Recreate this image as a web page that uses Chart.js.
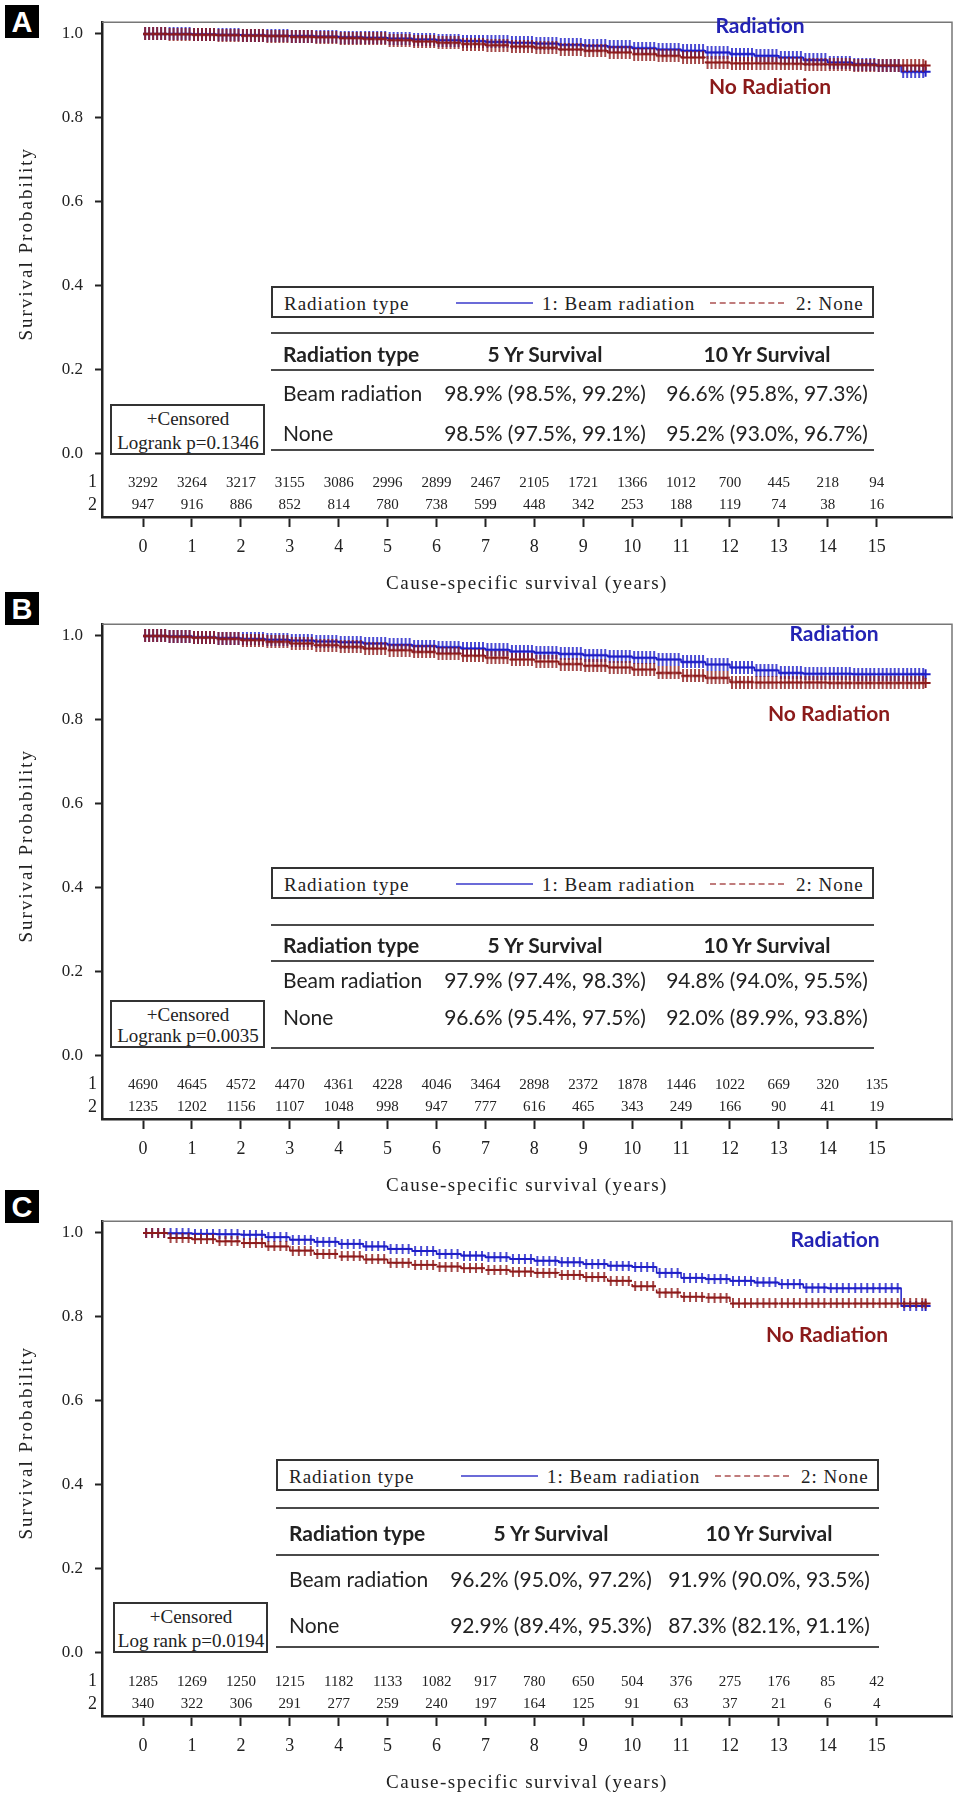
<!DOCTYPE html>
<html>
<head>
<meta charset="utf-8">
<title>Cause-specific survival by radiation type</title>
<script src="https://cdn.jsdelivr.net/npm/chart.js@4.4.1/dist/chart.umd.min.js"></script>
<style>
  body { margin: 0; background: #fff; }
  #page { position: relative; width: 962px; height: 1800px; overflow: hidden; }
  .panel { position: absolute; left: 0; width: 962px; height: 597px; }
  .panel canvas { position: absolute; left: 0; top: 0; }
  .tag { position: absolute; left: 5px; width: 34px; height: 33px; background: #000; color: #fff;
         font: bold 29px "Liberation Sans", Arial, sans-serif; text-align: center; line-height: 34px; }
  .t { position: absolute; white-space: nowrap; line-height: 1; color: #222; }
  .serif { font-family: "Liberation Serif", serif; font-size: 19px; }
  .leg { font-family: "Liberation Serif", serif; font-size: 19px; letter-spacing: 1px; }
  .sans { font-family: Lato, "Liberation Sans", sans-serif; font-size: 21px; }
  .bold { font-weight: bold; }
  .rule { position: absolute; height: 0; border-top: 2.5px solid #4a4a4a; }
  .box { position: absolute; border: 2px solid #333; background: #fff; box-sizing: border-box; }
  .lab { position: absolute; white-space: nowrap; line-height: 1; font: bold 21px Lato, sans-serif; transform: translate(-50%, -50%); }
</style>
</head>
<body>
<div id="page"></div>
<script>
// tick values
const years = [0, 1, 2, 3, 4, 5, 6, 7, 8, 9, 10, 11, 12, 13, 14, 15];
const yTicks = [0, 0.2, 0.4, 0.6, 0.8, 1.0];

// KM estimates, every half year
const times = [0, 0.5, 1, 1.5, 2, 2.5, 3, 3.5, 4, 4.5, 5, 5.5, 6, 6.5, 7, 7.5, 8, 8.5,
               9, 9.5, 10, 10.5, 11, 11.5, 12, 12.5, 13, 13.5, 14, 14.5, 15, 15.5, 16];

const beamA = [1.000, 1.000, 0.999, 0.998, 0.997, 0.996, 0.995, 0.994, 0.992, 0.991, 0.989, 0.987, 0.985, 0.983, 0.981, 0.979, 0.977,
               0.974, 0.972, 0.969, 0.966, 0.963, 0.960, 0.956, 0.952, 0.948, 0.944, 0.938, 0.932, 0.928, 0.924, 0.910, 0.910];
const noneA = [1.000, 0.999, 0.998, 0.997, 0.996, 0.995, 0.993, 0.992, 0.990, 0.988, 0.985, 0.982, 0.979, 0.976, 0.973, 0.970, 0.967,
               0.963, 0.960, 0.956, 0.952, 0.948, 0.944, 0.932, 0.930, 0.930, 0.929, 0.928, 0.927, 0.926, 0.925, 0.925, 0.925];

const beamB = [1.000, 0.999, 0.997, 0.995, 0.993, 0.991, 0.989, 0.987, 0.985, 0.982, 0.979, 0.976, 0.973, 0.970, 0.967, 0.963, 0.960,
               0.957, 0.954, 0.951, 0.948, 0.944, 0.938, 0.932, 0.925, 0.918, 0.912, 0.910, 0.910, 0.909, 0.909, 0.909, 0.909];
const noneB = [1.000, 0.998, 0.996, 0.993, 0.990, 0.986, 0.982, 0.978, 0.974, 0.970, 0.966, 0.962, 0.958, 0.953, 0.948, 0.944, 0.939,
               0.933, 0.929, 0.925, 0.920, 0.912, 0.905, 0.900, 0.890, 0.889, 0.889, 0.889, 0.888, 0.888, 0.888, 0.888, 0.888];

const beamC = [1.000, 0.999, 0.998, 0.997, 0.996, 0.990, 0.984, 0.979, 0.974, 0.968, 0.962, 0.957, 0.950, 0.946, 0.942, 0.938, 0.934,
               0.930, 0.926, 0.922, 0.919, 0.905, 0.893, 0.890, 0.886, 0.882, 0.878, 0.870, 0.868, 0.868, 0.868, 0.826, 0.826];
const noneC = [1.000, 0.988, 0.985, 0.980, 0.976, 0.968, 0.958, 0.950, 0.944, 0.937, 0.929, 0.924, 0.920, 0.916, 0.912, 0.908, 0.905,
               0.900, 0.895, 0.886, 0.873, 0.858, 0.848, 0.846, 0.832, 0.832, 0.832, 0.832, 0.832, 0.832, 0.832, 0.832, 0.832];

// numbers at risk
const riskBeamA = [3292, 3264, 3217, 3155, 3086, 2996, 2899, 2467, 2105, 1721, 1366, 1012, 700, 445, 218, 94];
const riskNoneA = [947, 916, 886, 852, 814, 780, 738, 599, 448, 342, 253, 188, 119, 74, 38, 16];
const riskBeamB = [4690, 4645, 4572, 4470, 4361, 4228, 4046, 3464, 2898, 2372, 1878, 1446, 1022, 669, 320, 135];
const riskNoneB = [1235, 1202, 1156, 1107, 1048, 998, 947, 777, 616, 465, 343, 249, 166, 90, 41, 19];
const riskBeamC = [1285, 1269, 1250, 1215, 1182, 1133, 1082, 917, 780, 650, 504, 376, 275, 176, 85, 42];
const riskNoneC = [340, 322, 306, 291, 277, 259, 240, 197, 164, 125, 91, 63, 37, 21, 6, 4];

// survival table text
const groupNames = ['Beam radiation', 'None'];
const fiveYrA = ['98.9% (98.5%, 99.2%)', '98.5% (97.5%, 99.1%)'];
const tenYrA = ['96.6% (95.8%, 97.3%)', '95.2% (93.0%, 96.7%)'];
const fiveYrB = ['97.9% (97.4%, 98.3%)', '96.6% (95.4%, 97.5%)'];
const tenYrB = ['94.8% (94.0%, 95.5%)', '92.0% (89.9%, 93.8%)'];
const fiveYrC = ['96.2% (95.0%, 97.2%)', '92.9% (89.4%, 95.3%)'];
const tenYrC = ['91.9% (90.0%, 93.5%)', '87.3% (82.1%, 91.1%)'];
const logrank = ['Logrank p=0.1346', 'Logrank p=0.0035', 'Log rank p=0.0194'];

const BLUE = '#1e1ec8';
const RED = '#8e1b1b';
const SERIF = '"Liberation Serif", serif';

// censor marks: a run of "+" that fills the half year after each point
function censorRun(color, w, h, gap) {
  const c = document.createElement('canvas');
  c.width = w * 2;
  c.height = h;
  const g = c.getContext('2d');
  g.strokeStyle = color;
  g.lineWidth = 2;
  g.beginPath();
  g.moveTo(w, h / 2);
  g.lineTo(w * 2, h / 2);
  g.stroke();
  g.lineWidth = 1.6;
  g.beginPath();
  for (let x = w + gap / 2; x < w * 2; x += gap) {
    g.moveTo(x, 0);
    g.lineTo(x, h);
  }
  g.stroke();
  return c;
}

// frame, numbers at risk, axis titles
const kmExtras = {
  id: 'kmExtras',
  afterDraw(chart, args, opts) {
    const { ctx, chartArea: ca } = chart;
    const x = chart.scales.x, y = chart.scales.y;
    ctx.save();
    ctx.strokeStyle = '#777';
    ctx.lineWidth = 1.5;
    ctx.beginPath();
    ctx.moveTo(ca.left, ca.top);
    ctx.lineTo(ca.right, ca.top);
    ctx.lineTo(ca.right, ca.bottom);
    ctx.stroke();

    ctx.fillStyle = '#222';
    ctx.textBaseline = 'middle';
    const rowVals = [-0.069, -0.123];
    opts.risk.forEach(function(row, r) {
      const py = y.getPixelForValue(rowVals[r]);
      ctx.font = '15px ' + SERIF;
      ctx.textAlign = 'center';
      row.forEach(function(n, i) {
        ctx.fillText(String(n), x.getPixelForValue(years[i]), py);
      });
      ctx.font = '18px ' + SERIF;
      ctx.textAlign = 'right';
      ctx.fillText(String(r + 1), ca.left - 5, py);
    });

    ctx.font = '19px ' + SERIF;
    ctx.textAlign = 'center';
    ctx.letterSpacing = '1.5px';
    ctx.fillText('Cause-specific survival (years)', (ca.left + ca.right) / 2, 584);

    ctx.letterSpacing = '2px';
    ctx.translate(27, y.getPixelForValue(0.5));
    ctx.rotate(-Math.PI / 2);
    ctx.fillText('Survival Probability', 0, 0);
    ctx.restore();
  }
};

function addText(parent, text, left, top, cls, centered) {
  const d = document.createElement('div');
  d.className = 't ' + cls;
  d.textContent = text;
  d.style.left = left + 'px';
  d.style.top = top + 'px';
  d.style.transform = centered ? 'translate(-50%, -50%)' : 'translate(0, -50%)';
  parent.appendChild(d);
  return d;
}

function addRule(parent, left, top, width) {
  const d = document.createElement('div');
  d.className = 'rule';
  d.style.left = left + 'px';
  d.style.top = top + 'px';
  d.style.width = width + 'px';
  parent.appendChild(d);
}

function makePanel(p) {
  const page = document.getElementById('page');
  const tag = document.createElement('div');
  tag.className = 'tag';
  tag.textContent = p.letter;
  tag.style.top = p.tagTop + 'px';
  page.appendChild(tag);

  const panel = document.createElement('div');
  panel.className = 'panel';
  panel.style.top = p.top + 'px';
  page.appendChild(panel);
  const canvas = document.createElement('canvas');
  canvas.width = 962;
  canvas.height = 597;
  panel.appendChild(canvas);

  const last = times.length - 1;
  const runRed = censorRun(RED, 24, p.markH, p.gap);
  const runBlue = censorRun(BLUE, 24, p.markH, p.gap);

  new Chart(canvas, {
    type: 'line',
    data: {
      datasets: [{
        label: '2: None',
        data: times.map((t, i) => ({ x: t, y: p.none[i] })),
        borderColor: RED, borderWidth: 1.5, borderDash: [6, 4], stepped: true,
        pointStyle: c => c.dataIndex === last ? 'cross' : runRed,
        pointRadius: 5, pointBorderWidth: 2,
        pointBorderColor: RED, pointBackgroundColor: RED, fill: false
      }, {
        label: '1: Beam radiation',
        data: times.map((t, i) => ({ x: t, y: p.beam[i] })),
        borderColor: BLUE, borderWidth: 1.5, stepped: true,
        pointStyle: c => c.dataIndex === last ? 'cross' : runBlue,
        pointRadius: 5, pointBorderWidth: 2,
        pointBorderColor: BLUE, pointBackgroundColor: BLUE, fill: false
      }]
    },
    options: {
      responsive: false,
      animation: false,
      layout: { padding: { top: 10, right: 10, left: 0, bottom: 0 } },
      plugins: {
        legend: { display: false },
        tooltip: { enabled: false },
        kmExtras: { risk: p.risk }
      },
      scales: {
        x: {
          type: 'linear', min: -0.84, max: 16.54,
          afterBuildTicks: s => { s.ticks = years.map(v => ({ value: v })); },
          afterFit: s => { s.height = 80; },
          grid: { drawOnChartArea: false, tickLength: 10, tickWidth: 2, tickColor: '#222' },
          border: { color: '#222', width: 2.5 },
          ticks: { font: { family: SERIF, size: 18 }, color: '#222', padding: 9, maxRotation: 0, autoSkip: false }
        },
        y: {
          min: -0.151, max: 1.028,
          afterBuildTicks: s => { s.ticks = yTicks.map(v => ({ value: v })); },
          afterFit: s => { s.width = 102; },
          grid: { drawOnChartArea: false, tickLength: 7, tickWidth: 2, tickColor: '#222' },
          border: { color: '#222', width: 2.5 },
          ticks: { font: { family: SERIF, size: 17 }, color: '#222', padding: 12,
                   callback: v => Number(v).toFixed(1) }
        }
      }
    },
    plugins: [kmExtras]
  });

  // inset legend
  const L = p.lay;
  const leg = document.createElement('div');
  leg.className = 'box';
  leg.style.left = L.left + 'px';
  leg.style.top = L.legendTop + 'px';
  leg.style.width = L.width + 'px';
  leg.style.height = '32px';
  panel.appendChild(leg);
  addText(leg, 'Radiation type', 11, 15, 'leg', false);
  const s1 = document.createElement('div');
  s1.style.cssText = 'position:absolute;left:183px;top:14px;width:77px;border-top:2px solid #6b6bd8;';
  leg.appendChild(s1);
  addText(leg, '1: Beam radiation', 269, 15, 'leg', false);
  const s2 = document.createElement('div');
  s2.style.cssText = 'position:absolute;left:437px;top:14px;width:74px;border-top:2px dashed #c07c7c;';
  leg.appendChild(s2);
  addText(leg, '2: None', 523, 15, 'leg', false);

  // survival table
  L.lines.forEach(v => addRule(panel, L.left, v, L.width));
  addText(panel, 'Radiation type', L.left + L.col[0], L.header, 'sans bold', false);
  addText(panel, '5 Yr Survival', L.left + L.col[1], L.header, 'sans bold', true);
  addText(panel, '10 Yr Survival', L.left + L.col[2], L.header, 'sans bold', true);
  groupNames.forEach((g, i) => {
    addText(panel, g, L.left + L.col[0], L.rows[i], 'sans', false);
    addText(panel, p.five[i], L.left + L.col[1], L.rows[i], 'sans', true);
    addText(panel, p.ten[i], L.left + L.col[2], L.rows[i], 'sans', true);
  });

  // censored / logrank box
  const cb = document.createElement('div');
  cb.className = 'box';
  cb.style.left = L.censorLeft + 'px';
  cb.style.top = L.censorTop + 'px';
  cb.style.width = '155px';
  cb.style.height = L.censorH + 'px';
  panel.appendChild(cb);
  addText(cb, '+Censored', 76, 12, 'serif', true);
  addText(cb, p.logrank, 76, L.censorH - 15, 'serif', true);

  // curve labels
  const l1 = document.createElement('div');
  l1.className = 'lab';
  l1.textContent = 'Radiation';
  l1.style.color = '#2323b4';
  l1.style.left = p.labRad[0] + 'px';
  l1.style.top = p.labRad[1] + 'px';
  panel.appendChild(l1);
  const l2 = document.createElement('div');
  l2.className = 'lab';
  l2.textContent = 'No Radiation';
  l2.style.color = '#8b1a1a';
  l2.style.left = p.labNone[0] + 'px';
  l2.style.top = p.labNone[1] + 'px';
  panel.appendChild(l2);
}

makePanel({
  letter: 'A', top: 0, tagTop: 5, markH: 13, gap: 4,
  beam: beamA, none: noneA, risk: [riskBeamA, riskNoneA],
  five: fiveYrA, ten: tenYrA, logrank: logrank[0],
  labRad: [760, 24], labNone: [770, 85],
  lay: { left: 271, width: 603, legendTop: 286, lines: [332, 369, 449], header: 353, rows: [392, 432],
         col: [12, 274, 496], censorLeft: 110, censorTop: 404, censorH: 51 }
});

makePanel({
  letter: 'B', top: 602, tagTop: 592, markH: 13, gap: 4,
  beam: beamB, none: noneB, risk: [riskBeamB, riskNoneB],
  five: fiveYrB, ten: tenYrB, logrank: logrank[1],
  labRad: [834, 30], labNone: [829, 110],
  lay: { left: 271, width: 603, legendTop: 265, lines: [322, 358, 445], header: 342, rows: [377, 414],
         col: [12, 274, 496], censorLeft: 110, censorTop: 398, censorH: 48 }
});

makePanel({
  letter: 'C', top: 1199, tagTop: 1190, markH: 10, gap: 6,
  beam: beamC, none: noneC, risk: [riskBeamC, riskNoneC],
  five: fiveYrC, ten: tenYrC, logrank: logrank[2],
  labRad: [835, 39], labNone: [827, 134],
  lay: { left: 276, width: 603, legendTop: 260, lines: [308, 355, 447], header: 333, rows: [379, 425],
         col: [13, 275, 493], censorLeft: 113, censorTop: 403, censorH: 51 }
});
</script>
</body>
</html>
